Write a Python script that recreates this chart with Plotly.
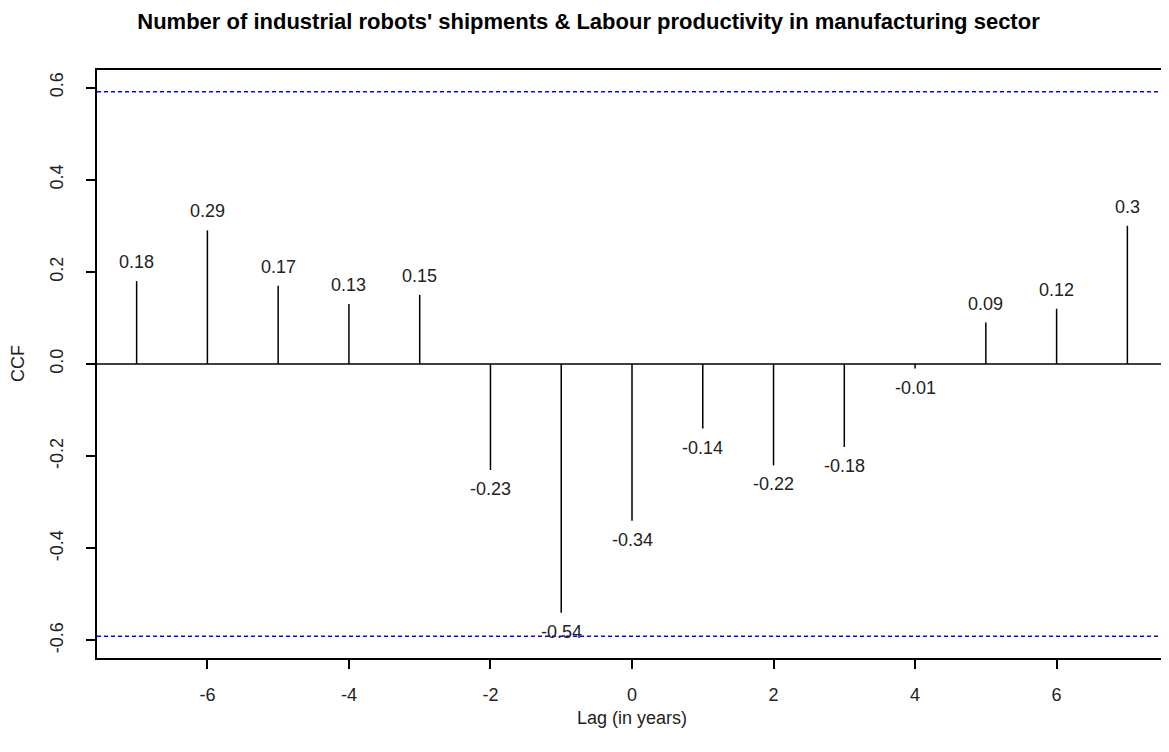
import plotly.graph_objects as go

lags = [-7, -6, -5, -4, -3, -2, -1, 0, 1, 2, 3, 4, 5, 6, 7]
ccf_values = [0.18, 0.29, 0.17, 0.13, 0.15, -0.23, -0.54, -0.34, -0.14, -0.22, -0.18, -0.01, 0.09, 0.12, 0.30]
ci_bound = 0.591
x_ticks = [-6, -4, -2, 0, 2, 4, 6]
x_tick_labels = ["-6", "-4", "-2", "0", "2", "4", "6"]
y_ticks = [-0.6, -0.4, -0.2, 0.0, 0.2, 0.4, 0.6]
y_tick_labels = ["-0.6", "-0.4", "-0.2", "0.0", "0.2", "0.4", "0.6"]

title_text = "Number of industrial robots' shipments & Labour productivity in manufacturing sector"
FONT = "Liberation Sans, Arial, sans-serif"
TXT = "#222222"

xs, ys = [], []
for lag, v in zip(lags, ccf_values):
    xs += [lag, lag, None]
    ys += [0, v, None]

fig = go.Figure()
fig.add_trace(go.Scatter(x=xs, y=ys, mode="lines",
                         line=dict(color="black", width=1.5),
                         hoverinfo="skip", showlegend=False))

# zero line and confidence bounds
fig.add_shape(type="line", xref="paper", x0=0, x1=1, yref="y", y0=0, y1=0,
              line=dict(color="black", width=1.5))
for b in (ci_bound, -ci_bound):
    fig.add_shape(type="line", xref="paper", x0=0, x1=1, yref="y", y0=b, y1=b,
                  line=dict(color="#0000FF", width=1.5, dash="4px,3px"))

for lag, v in zip(lags, ccf_values):
    fig.add_annotation(x=lag, y=v, xref="x", yref="y", text=f"{v:g}",
                       showarrow=False, yanchor="middle",
                       yshift=19 if v > 0 else -19,
                       font=dict(family=FONT, size=18, color=TXT))

fig.add_annotation(xref="paper", yref="paper", x=0.5, y=0, yshift=-60,
                   text="Lag (in years)", showarrow=False, yanchor="middle",
                   font=dict(family=FONT, size=18, color=TXT))
fig.add_annotation(xref="paper", yref="paper", x=0, y=0.5, xshift=-79,
                   text="CCF", showarrow=False, textangle=-90, xanchor="center",
                   font=dict(family=FONT, size=18, color=TXT))

# page body has an 8px margin; size the figure so the plot box lands where the reference has it
fig.update_layout(
    width=1161, height=744,
    margin=dict(l=89, r=2, t=62, b=94),
    paper_bgcolor="white", plot_bgcolor="white",
    title=dict(text=title_text, x=0.5, xref="container", y=0.982, yref="container",
               xanchor="center", yanchor="middle",
               font=dict(family=FONT, size=22, color="black", weight="bold")),
    font=dict(family=FONT, size=18, color=TXT),
    xaxis=dict(range=[-7.56, 7.56], tickvals=x_ticks, ticktext=x_tick_labels,
               showgrid=False, zeroline=False, automargin=False,
               showline=True, mirror=True, linecolor="black", linewidth=1.5,
               ticks="outside", ticklen=9, tickcolor="black", tickwidth=1.5,
               ticklabelstandoff=11),
    yaxis=dict(range=[-0.638, 0.638], tickvals=y_ticks, ticktext=y_tick_labels,
               tickangle=-90, showgrid=False, zeroline=False, automargin=False,
               showline=True, mirror=True, linecolor="black", linewidth=1.5,
               ticks="outside", ticklen=9, tickcolor="black", tickwidth=1.5,
               ticklabelstandoff=16),
)

fig.write_html("out.html")
